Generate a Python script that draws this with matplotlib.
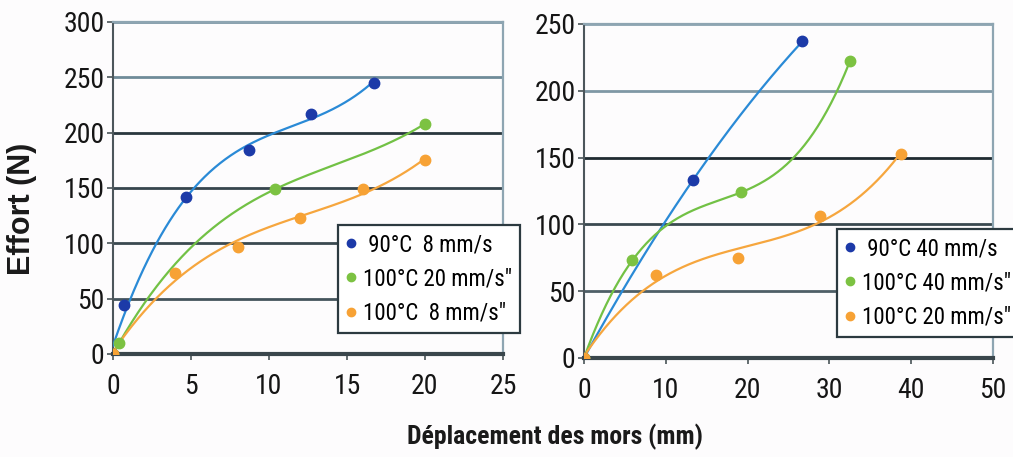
import numpy as np
import matplotlib
matplotlib.use("Agg")
import matplotlib.pyplot as plt
from matplotlib.lines import Line2D
from matplotlib import font_manager

# ---- data: left panel (low speeds) ----
left_labels = [" 90°C  8 mm/s", "100°C 20 mm/s\"", "100°C  8 mm/s\""]
left_blue_x = [0, 0.7, 4.7, 8.7, 12.7, 16.7]
left_blue_y = [0, 44, 142, 184, 217, 245]
left_green_x = [0, 0.4, 10.4, 20.0]
left_green_y = [0, 10, 149, 208]
left_orange_x = [0, 4.0, 8.0, 12.0, 16.0, 20.0]
left_orange_y = [0, 73, 97, 123, 149, 175]
left_xticks = [0, 5, 10, 15, 20, 25]
left_yticks = [0, 50, 100, 150, 200, 250, 300]

# ---- data: right panel (high speeds) ----
right_labels = [" 90°C 40 mm/s", "100°C 40 mm/s\"", "100°C 20 mm/s\""]
right_blue_x = [0, 13.3, 26.7]
right_blue_y = [0, 133, 237]
right_green_x = [0, 5.9, 19.2, 32.5]
right_green_y = [0, 73, 124, 222]
right_orange_x = [0, 8.8, 18.8, 28.8, 38.8]
right_orange_y = [0, 62, 75, 106, 153]
right_xticks = [0, 10, 20, 30, 40, 50]
right_yticks = [0, 50, 100, 150, 200, 250]

available = {f.name for f in font_manager.fontManager.ttflist}
NARROW = next((n for n in ("Liberation Sans Narrow", "Roboto Condensed",
                           "Archivo Narrow", "PT Sans Narrow")
               if n in available), "Liberation Sans")

MARK = {"blue": "#1c3aa8", "green": "#7cc242", "orange": "#f7a235"}
LINE = {"blue": "#2a8ad6", "green": "#72c145", "orange": "#f6a63e"}

W, H = 1013, 457
fig = plt.figure(figsize=(W / 100, H / 100), dpi=100)
fig.patch.set_facecolor("#fdfcfd")


def px_axes(x0, x1, y0, y1):
    return fig.add_axes([x0 / W, 1 - y1 / H, (x1 - x0) / W, (y1 - y0) / H])


def trend(ax, xs, ys, deg, key, xmax):
    coef = np.polyfit(xs, ys, deg)
    xx = np.linspace(0, xmax, 300)
    ax.plot(xx, np.polyval(coef, xx), color=LINE[key], lw=1.6, zorder=3)
    ax.plot(xs, ys, "o", color=MARK[key], ms=7.5, mec=MARK[key], zorder=4)


def style(ax, xticks, yticks, grid_colors):
    ax.set_xlim(xticks[0], xticks[-1])
    ax.set_ylim(yticks[0], yticks[-1])
    ax.set_xticks(xticks)
    ax.set_yticks(yticks)
    ax.set_facecolor("#fdfcfd")
    ax.tick_params(axis="both", direction="out", length=4, width=1.2,
                   color="#4a5458", labelsize=20)
    ax.tick_params(axis="x", pad=10)
    ax.tick_params(axis="y", pad=2)
    for lab in ax.get_xticklabels() + ax.get_yticklabels():
        lab.set_fontfamily(NARROW)
        lab.set_color("#151515")
    for name in ("top", "right"):
        ax.spines[name].set_color("#8ea5b2")
        ax.spines[name].set_linewidth(1.6)
    ax.spines["left"].set_color("#4c565b")
    ax.spines["left"].set_linewidth(1.5)
    ax.spines["bottom"].set_color("#3a464c")
    ax.spines["bottom"].set_linewidth(3)
    for y, c in zip(yticks[1:], grid_colors):
        ax.axhline(y, color=c, lw=2.0, zorder=1)


def legend(ax, labels, anchor):
    handles = [Line2D([], [], ls="none", marker="o", ms=6, color=MARK[k])
               for k in ("blue", "green", "orange")]
    leg = fig.legend(handles, labels, loc="upper left",
                     bbox_to_anchor=(anchor[0] / W, 1 - anchor[1] / H),
                     frameon=True, fancybox=False, borderpad=0.35,
                     handlelength=0.4, handletextpad=0.35, labelspacing=0.5,
                     borderaxespad=0, prop={"family": NARROW, "size": 16.5})
    fr = leg.get_frame()
    fr.set_edgecolor("#2c3a40")
    fr.set_linewidth(1.6)
    fr.set_facecolor("white")
    fr.set_alpha(1)
    leg.set_zorder(10)


# left panel
axl = px_axes(113, 503, 22, 354)
style(axl, left_xticks, left_yticks,
      ["#44545c", "#3a4950", "#36454d", "#2a373e", "#6f8b99", "#7e98a6"])
trend(axl, left_blue_x, left_blue_y, 3, "blue", left_blue_x[-1])
trend(axl, left_green_x, left_green_y, 3, "green", left_green_x[-1])
trend(axl, left_orange_x, left_orange_y, 3, "orange", left_orange_x[-1])
axl.set_ylabel("Effort (N)", fontfamily="Liberation Sans", fontweight="bold",
               fontsize=22, color="#1a1a1a")
axl.yaxis.set_label_coords((37 - 113) / 390, (354 - 209) / 332)
legend(axl, left_labels, (338, 225))

# right panel
axr = px_axes(584, 993, 24, 358)
style(axr, right_xticks, right_yticks,
      ["#4f5f67", "#3a4950", "#1f2b31", "#7f98a5", "#8aa3b0"])
trend(axr, right_blue_x, right_blue_y, 2, "blue", right_blue_x[-1])
trend(axr, right_green_x, right_green_y, 3, "green", right_green_x[-1])
trend(axr, right_orange_x, right_orange_y, 3, "orange", right_orange_x[-1])
legend(axr, right_labels, (837, 229))

fig.text(555 / W, 1 - 437 / H, "Déplacement des mors (mm)", ha="center",
         va="center", fontfamily=NARROW, fontweight="bold", fontsize=18.5,
         color="#1a1a1a")

fig.savefig("out.png", dpi=100, facecolor=fig.get_facecolor())
